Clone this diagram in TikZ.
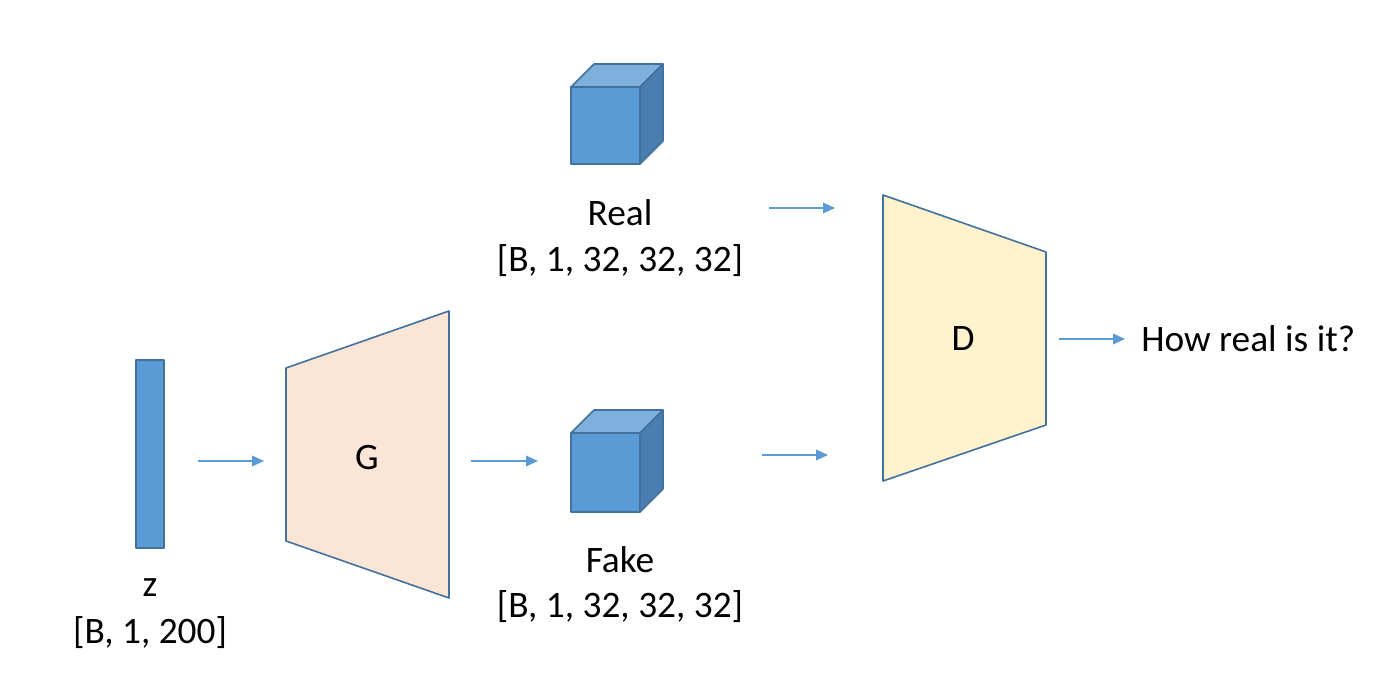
\documentclass[tikz,border=0pt]{standalone}
\usepackage{fontspec}
\setmainfont{Carlito}
\usetikzlibrary{arrows.meta}
\definecolor{cubefront}{HTML}{5B9BD5}
\definecolor{cubetop}{HTML}{7EB0DE}
\definecolor{cubeside}{HTML}{4A7EB0}
\definecolor{edge}{HTML}{41719C}
\definecolor{gfill}{HTML}{FBE5D6}
\definecolor{dfill}{HTML}{FFF2CC}
\tikzset{
  conn/.style={draw=cubefront, line width=0.9pt, -{Triangle[length=9pt,width=8pt]}},
  shapeedge/.style={draw=edge, line width=1.2pt, line join=round},
  lbl/.style={font=\fontsize{28}{33}\selectfont, inner sep=0pt, text=black},
}
\begin{document}
\begin{tikzpicture}[x=0.75pt,y=-0.75pt]
\useasboundingbox (0,0) rectangle (1400,681);
% z bar
\draw[shapeedge, fill=cubefront] (136,360) rectangle (164,548);
\node[lbl] (zl) at (150,588) {z};
\node[lbl] (zs) at (150,633) {[B, 1, 200]};
% G
\draw[shapeedge, fill=gfill] (286,368) -- (449,311) -- (449,598) -- (286,541) -- cycle;
\node[lbl] (G) at (367,458) {G};
\coordinate (zr) at (198,461);
\coordinate (gl) at (264,461);
\draw[conn] (zr) -- (gl);
\coordinate (gr) at (471,461);
\coordinate (fl) at (538,461);
\draw[conn] (gr) -- (fl);
% Real cube
\draw[shapeedge, fill=cubetop] (571,87) -- (594,64) -- (663,64) -- (640,87) -- cycle;
\draw[shapeedge, fill=cubeside] (640,87) -- (663,64) -- (663,141) -- (640,164) -- cycle;
\draw[shapeedge, fill=cubefront] (571,87) rectangle (640,164);
\node[lbl] (rl) at (620,213) {Real};
\node[lbl] (rs) at (620,261) {[B, 1, 32, 32, 32]};
% Fake cube
\draw[shapeedge, fill=cubetop] (571,433) -- (594,410) -- (663,410) -- (640,433) -- cycle;
\draw[shapeedge, fill=cubeside] (640,433) -- (663,410) -- (663,489) -- (640,512) -- cycle;
\draw[shapeedge, fill=cubefront] (571,433) rectangle (640,512);
\node[lbl] (fl2) at (620,560) {Fake};
\node[lbl] (fs) at (620,607) {[B, 1, 32, 32, 32]};
% D
\draw[shapeedge, fill=dfill] (883,195) -- (1046,252) -- (1046,425) -- (883,481) -- cycle;
\node[lbl] (D) at (963,339) {D};
\coordinate (ra) at (769,208);
\coordinate (rb) at (835,208);
\draw[conn] (ra) -- (rb);
\coordinate (fa) at (762,455);
\coordinate (fb) at (828,455);
\draw[conn] (fa) -- (fb);
\coordinate (da) at (1059,339);
\node[lbl, anchor=west] (out) at (1141,339) {How real is it?};
\draw[conn] (da) -- (out.west -| 1125,0);
\end{tikzpicture}
\end{document}
